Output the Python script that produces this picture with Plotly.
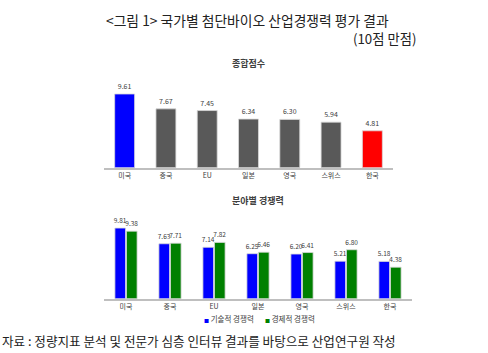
import plotly.graph_objects as go

countries = ["미국", "중국", "EU", "일본", "영국", "스위스", "한국"]
total_scores = [9.61, 7.67, 7.45, 6.34, 6.30, 5.94, 4.81]
total_colors = ["#0000FF", "#595959", "#595959", "#595959", "#595959", "#595959", "#FF0000"]
series_names = ["기술적 경쟁력", "경제적 경쟁력"]
series_colors = ["#0000FF", "#008000"]
tech_scores = [9.81, 7.63, 7.14, 6.25, 6.20, 5.21, 5.18]
econ_scores = [9.38, 7.71, 7.82, 6.46, 6.41, 6.80, 4.38]

FONT = "Noto Sans CJK KR"
W, H = 488, 353
LABEL_FONT = dict(size=6.5, color="#404040", family=FONT)

fig = go.Figure()
fig.add_trace(go.Bar(
    x=countries, y=total_scores, marker=dict(color=total_colors, line=dict(color="#d9d9d9", width=0.8)),
    text=[f"{v:.2f}" for v in total_scores], textposition="outside", cliponaxis=False,
    constraintext="none", textfont=dict(size=7, color="#404040", family=FONT),
    xaxis="x", yaxis="y", showlegend=False,
))
for name, vals, col in zip(series_names, [tech_scores, econ_scores], series_colors):
    fig.add_trace(go.Bar(
        x=countries, y=vals, name=name,
        marker=dict(color=col, line=dict(color="#d9d9d9", width=0.8)),
        text=[f"{v:.2f}" for v in vals], textposition="outside", cliponaxis=False,
        constraintext="none", textfont=LABEL_FONT, xaxis="x2", yaxis="y2", showlegend=False,
    ))

def px_x(p):
    return p / W

def px_y(p):
    return 1 - p / H

top_base = 167.7
bot_base = 298.7

annotations = [
    dict(text="<그림 1> 국가별 첨단바이오 산업경쟁력 평가 결과", x=px_x(247), y=px_y(20),
         xref="paper", yref="paper", showarrow=False, xanchor="center", yanchor="middle",
         font=dict(size=13.8, color="#222222")),
    dict(text="(10점 만점)", x=px_x(418), y=px_y(39), xref="paper", yref="paper",
         showarrow=False, xanchor="right", yanchor="middle", font=dict(size=13.3, color="#222222")),
    dict(text="<b>종합점수</b>", x=px_x(248), y=px_y(64), xref="paper", yref="paper",
         showarrow=False, xanchor="center", yanchor="middle", font=dict(size=9, color="#404040")),
    dict(text="<b>분야별 경쟁력</b>", x=px_x(258), y=px_y(200.5), xref="paper", yref="paper",
         showarrow=False, xanchor="center", yanchor="middle", font=dict(size=9, color="#404040")),
    dict(text="자료 : 정량지표 분석 및 전문가 심층 인터뷰 결과를 바탕으로 산업연구원 작성",
         x=0, y=px_y(340), xref="paper", yref="paper", showarrow=False, xanchor="left",
         yanchor="middle", font=dict(size=12.6, color="#222222")),
]
legend_x = [202, 263]
for name, col, lx in zip(series_names, series_colors, legend_x):
    annotations.append(dict(
        text=f"<span style='color:{col};font-size:5px'>■</span> {name}",
        x=px_x(lx), y=px_y(318), xref="paper", yref="paper", showarrow=False,
        xanchor="left", yanchor="middle", font=dict(size=7.5, color="#404040")))

fig.update_layout(
    width=W, height=H, margin=dict(l=0, r=0, t=0, b=0),
    paper_bgcolor="white", plot_bgcolor="white",
    font=dict(family=FONT, size=7, color="#404040"),
    barmode="group", bargap=0.475, bargroupgap=0.08, showlegend=False,
    xaxis=dict(domain=[px_x(104), px_x(393)], anchor="y", showline=True, linecolor="#bfbfbf",
               linewidth=1.5, ticks="", showgrid=False, tickfont=dict(size=7, color="#404040")),
    yaxis=dict(domain=[px_y(top_base), px_y(top_base - 12 * 7.67)], range=[0, 12], anchor="x",
               visible=False, showgrid=False),
    xaxis2=dict(domain=[px_x(104), px_x(412)], anchor="y2", showline=True, linecolor="#bfbfbf",
                linewidth=1.5, ticks="", showgrid=False, tickfont=dict(size=7, color="#404040")),
    yaxis2=dict(domain=[px_y(bot_base), px_y(bot_base - 12 * 7.2)], range=[0, 12], anchor="x2",
                visible=False, showgrid=False),
    annotations=annotations,
)

fig.write_html("out.html")
